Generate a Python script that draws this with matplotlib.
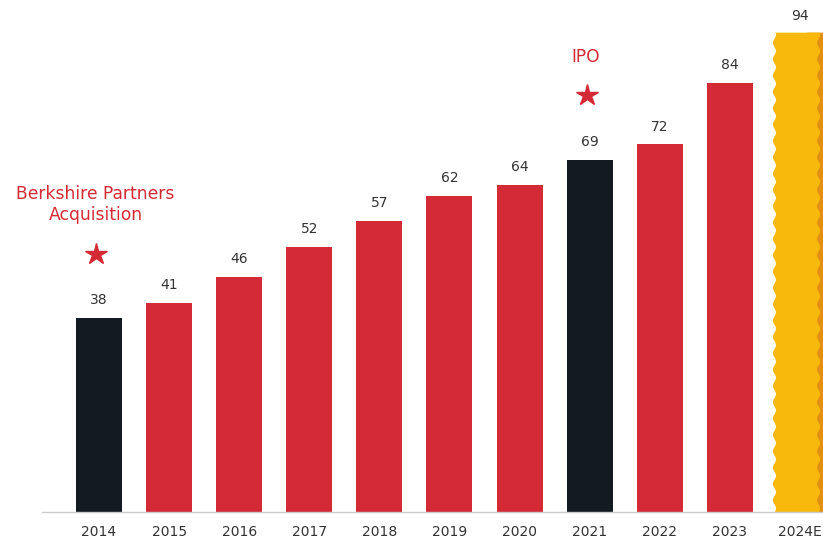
import numpy as np
import matplotlib
matplotlib.use("Agg")
import matplotlib.pyplot as plt

years = ["2014", "2015", "2016", "2017", "2018", "2019", "2020", "2021", "2022", "2023", "2024E"]
values = [38, 41, 46, 52, 57, 62, 64, 69, 72, 84, 94]
kinds = ["event", "normal", "normal", "normal", "normal", "normal", "normal", "event", "normal", "normal", "estimate"]
events = {"2014": "Berkshire Partners\nAcquisition", "2021": "IPO"}

RED = "#D42A35"
BLACK = "#141A22"
YELLOW = "#F9B90C"
ORANGE = "#E38F12"
TXT = "#333333"
colors = {"event": BLACK, "normal": RED}

plt.rcParams['font.family'] = ['DejaVu Sans']

fig = plt.figure(figsize=(8.23, 5.42), dpi=100)
ax = fig.add_axes([42/823, 30/542, 1 - 42/823, 512/542])
ax.set_xlim(-0.813, 10.33)
ax.set_ylim(0, 100.3)

x = np.arange(len(years))
w = 0.656
for i, (yr, v, k) in enumerate(zip(years, values, kinds)):
    if k == "estimate":
        yy = np.linspace(0, v, 800)
        amp = 0.022
        period = 3.2
        wave = amp * np.sin(2 * np.pi * yy / period)
        left = i - 0.37 + wave
        mid = i + 0.26 + wave
        ax.fill_betweenx(yy, i + 0.1, i + 0.45, color=ORANGE, lw=0, zorder=2)
        ax.fill_betweenx(yy, left, mid, color=YELLOW, lw=0, zorder=3)
        ax.text(i, v + 3.2, f"{v}", ha="center", va="center", fontsize=10, color=TXT, zorder=5)
    else:
        ax.bar(i, v, width=w, color=colors[k], zorder=3)
        ax.text(i, v + 3.5, f"{v}", ha="center", va="center", fontsize=10, color=TXT, zorder=5)

# events
for yr, label in events.items():
    i = years.index(yr)
    v = values[i]
    ax.plot([i - 0.04], [v + 12.6], marker="*", markersize=16, color=RED, mec=RED, zorder=5, ls="none")
    ax.text(i - 0.05, v + 19.2, label, ha="center", va="baseline",
            fontsize=12.3, color=RED, linespacing=1.25, zorder=5)

ax.set_xticks(x)
ax.set_xticklabels(years, fontsize=10, color=TXT)
ax.tick_params(axis="x", length=0, pad=9)
ax.set_yticks([])
for s in ["top", "right", "left"]:
    ax.spines[s].set_visible(False)
ax.spines["bottom"].set_color("#CCCCCC")
ax.spines["bottom"].set_linewidth(1.0)
ax.spines["bottom"].set_zorder(4)

fig.savefig("out.png", dpi=100)
